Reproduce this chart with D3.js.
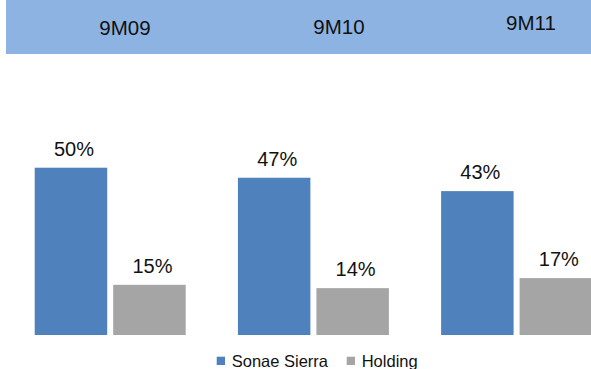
<!DOCTYPE html>
<html>
<head>
<meta charset="utf-8">
<script src="https://cdn.jsdelivr.net/npm/d3@7/dist/d3.min.js"></script>
<style>
  html, body { margin: 0; padding: 0; background: #fff; }
  svg { display: block; font-family: "Liberation Sans", Arial, sans-serif; }
</style>
</head>
<body>
<svg id="chart" width="591" height="369"></svg>
<script>
// Periods, series and their values (percent)
const periods = ["9M09", "9M10", "9M11"];
const series = ["Sonae Sierra", "Holding"];
const sonaeSierra = [50, 47, 43];
const holding = [15, 14, 17];
const colors = ["#4F81BD", "#A5A5A5"];

// Header strip layout: label centres and baselines
const headerX = [125, 339, 531];
const headerY = [35, 34, 30];

const svg = d3.select("#chart");
const W = 591, H = 369;

// Header band
svg.append("rect")
  .attr("x", 6).attr("y", 0)
  .attr("width", W - 6).attr("height", 54)
  .attr("fill", "#8DB3E2");

svg.append("g").selectAll("text")
  .data(periods)
  .join("text")
  .attr("x", (d, i) => headerX[i])
  .attr("y", (d, i) => headerY[i])
  .attr("text-anchor", "middle")
  .attr("font-size", 20.5)
  .attr("fill", "#111")
  .text(d => d);

// Scales
const x0 = d3.scaleBand()
  .domain(periods)
  .range([8.6, 618.2])
  .paddingInner(0.257)
  .paddingOuter(0.1285);

const x1 = d3.scaleBand()
  .domain(series)
  .range([0, x0.bandwidth()])
  .paddingInner(0.0765)
  .paddingOuter(0);

const y = d3.scaleLinear().domain([0, 50]).range([335, 167.7]);

const rows = periods.map((p, i) => ({
  period: p,
  values: [
    { key: series[0], value: sonaeSierra[i], color: colors[0] },
    { key: series[1], value: holding[i], color: colors[1] }
  ]
}));

const groups = svg.append("g").selectAll("g")
  .data(rows)
  .join("g")
  .attr("transform", d => `translate(${x0(d.period)},0)`);

groups.selectAll("rect")
  .data(d => d.values)
  .join("rect")
  .attr("x", d => x1(d.key))
  .attr("y", d => y(d.value))
  .attr("width", x1.bandwidth())
  .attr("height", d => y(0) - y(d.value))
  .attr("fill", d => d.color);

groups.selectAll("text")
  .data(d => d.values)
  .join("text")
  .attr("x", d => x1(d.key) + x1.bandwidth() / 2 + 3)
  .attr("y", d => y(d.value) - 12)
  .attr("text-anchor", "middle")
  .attr("font-size", 20)
  .attr("fill", "#111")
  .text(d => d.value + "%");

// Legend
const legendX = [216.7, 346.7];
const legend = svg.append("g").selectAll("g")
  .data(series)
  .join("g")
  .attr("transform", (d, i) => `translate(${legendX[i]},0)`);

legend.append("rect")
  .attr("x", 0).attr("y", 356.7)
  .attr("width", 8.3).attr("height", 8.3)
  .attr("fill", (d, i) => colors[i]);

legend.append("text")
  .attr("x", 15).attr("y", 367.3)
  .attr("font-size", 16.5)
  .attr("fill", "#111")
  .text(d => d);
</script>
</body>
</html>
